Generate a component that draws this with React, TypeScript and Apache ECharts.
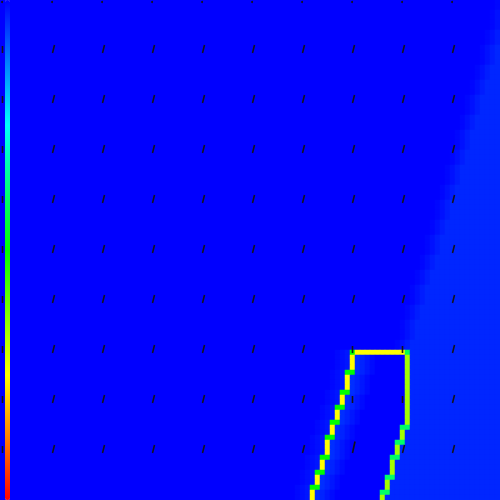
import React, { useEffect, useRef } from 'react';
import * as echarts from 'echarts';

const COLS = 100;
const ROWS = 100;
const colCats = Array.from({ length: COLS }, (_, i) => String(i));
const rowCats = Array.from({ length: ROWS }, (_, i) => String(i));

const paletteStops = ['#0000ff', '#00ffff', '#00ff00', '#ffff00', '#ff0000'];

// first column of the lighter region, rows 0..69
const diagEdge = [
  100, 100, 99, 99, 99, 99, 98, 98, 98, 97,
  97, 97, 97, 96, 96, 96, 95, 95, 95, 94,
  94, 94, 94, 93, 93, 93, 92, 92, 92, 92,
  91, 91, 91, 90, 90, 90, 90, 89, 89, 89,
  88, 88, 88, 88, 87, 87, 87, 86, 86, 86,
  86, 85, 85, 85, 84, 84, 84, 83, 83, 83,
  83, 82, 82, 82, 81, 81, 81, 81, 80, 80,
];
// contour columns, rows 70..99
const leftLine = [
  70, 70, 70, 70, 69, 69, 69, 69, 68, 68,
  68, 67, 67, 67, 66, 66, 66, 65, 65, 65,
  65, 64, 64, 64, 63, 63, 63, 62, 62, 62,
];
const rightLine = [
  81, 81, 81, 81, 81, 81, 81, 81, 81, 81,
  81, 81, 81, 81, 81, 80, 80, 80, 79, 79,
  79, 78, 78, 78, 78, 77, 77, 77, 76, 76,
];
const leftSteps = [74, 78, 81, 84, 87, 91, 94, 97];
const rightSteps = [85, 88, 91, 95, 98];
const topRow = 70;

const lightLevel = 0.037;
const diagRamp = [0.006, 0.016, 0.027];
const innerRamp = [0.045, 0.034, 0.022, 0.01];
const outerRamp = [0.022, 0.014, 0.007];
const yellowLevel = 0.75;
const greenStep = 0.5;
const limeLevel = 0.66;
const tealStep = 0.4;
const cornerRight = 0.42;

// arrow grid: every 10th cell
const arrowRows = [
  'dddddddddd',
  'vsssssssss',
  'vsssssssss',
  'vsssssssss',
  'vsssssssss',
  'vsssssssss',
  'vsssssssss',
  'vssssssvvs',
  'vssssssvvs',
  'vssssssLss',
];
const arrowVectors: Record<string, number[]> = {
  d: [0, 0],
  v: [0, -6.5],
  s: [2, -7.5],
  L: [2.5, -11],
};

function buildHeat() {
  const data: number[][] = [];
  for (let r = 0; r < ROWS; r++) {
    for (let c = 0; c < COLS; c++) {
      let v = 0;
      if (r < topRow) {
        const e = diagEdge[r] - 1;
        if (c >= e) {
          const i = c - e;
          v = i < diagRamp.length ? diagRamp[i] : lightLevel;
        }
      } else {
        const L = leftLine[r - topRow];
        const R = rightLine[r - topRow];
        const lStep = leftSteps.includes(r);
        const rStep = rightSteps.includes(r);
        if (r === topRow) {
          if (c < L) {
            const d = L - c - 1;
            v = d < outerRamp.length ? outerRamp[d] : 0;
          } else if (c === L) v = greenStep;
          else if (c < R) v = yellowLevel;
          else if (c === R) v = cornerRight;
          else v = lightLevel;
        } else if (c < L) {
          const d = L - c - 1;
          v = d < outerRamp.length ? outerRamp[d] : 0;
        } else if (c === L) {
          v = lStep ? greenStep : yellowLevel;
        } else if (c === L + 1 && lStep) {
          v = greenStep;
        } else if (c === R) {
          v = rStep ? tealStep : limeLevel;
        } else if (c === R + 1 && rStep) {
          v = tealStep;
        } else if (c > R) {
          v = lightLevel;
        } else {
          const start = L + (lStep ? 2 : 1);
          const d = c - start;
          v = d < innerRamp.length ? innerRamp[d] : 0;
        }
      }
      data.push([c, r, v]);
    }
  }
  return data;
}

function buildArrows() {
  const data: number[][] = [];
  arrowRows.forEach((row, ri) => {
    row.split('').forEach((code, ci) => {
      const vec = arrowVectors[code];
      data.push([ci * 10, ri * 10, vec[0], vec[1]]);
    });
  });
  return data;
}

export default function App() {
  const ref = useRef<HTMLDivElement>(null);
  useEffect(() => {
    if (!ref.current) return;
    const chart = echarts.init(ref.current, null, { renderer: 'svg' });
    chart.setOption({
      animation: false,
      grid: { left: 0, right: 0, top: 0, bottom: 0, containLabel: false },
      xAxis: { type: 'category', data: colCats, show: false },
      yAxis: { type: 'category', data: rowCats, show: false, inverse: true },
      visualMap: {
        type: 'continuous',
        seriesIndex: 0,
        min: 0,
        max: 1,
        inverse: true,
        calculable: false,
        orient: 'vertical',
        left: 5,
        top: 0,
        padding: 0,
        itemWidth: 5,
        itemHeight: 500,
        text: null,
        inRange: { color: paletteStops },
      },
      series: [
        {
          type: 'heatmap',
          data: buildHeat(),
          progressive: 0,
          itemStyle: { borderWidth: 0 },
          emphasis: { disabled: true },
          silent: true,
        },
        {
          type: 'custom',
          data: buildArrows(),
          z: 10,
          silent: true,
          renderItem: (params: any, api: any) => {
            const p = api.coord([api.value(0), api.value(1)]);
            const dx = api.value(2);
            const dy = api.value(3);
            if (dx === 0 && dy === 0) {
              return {
                type: 'circle',
                shape: { cx: p[0] - 0.5, cy: p[1] - 0.5, r: 1 },
                style: { fill: '#151515' },
              };
            }
            return {
              type: 'line',
              shape: { x1: p[0], y1: p[1] + 0.5, x2: p[0] + dx, y2: p[1] + dy },
              style: { stroke: '#151515', lineWidth: 1.6 },
            };
          },
        },
      ],
    });
    return () => chart.dispose();
  }, []);
  return (
    <div
      ref={ref}
      style={{ position: 'fixed', left: 0, top: 0, width: 500, height: 500 }}
    />
  );
}
